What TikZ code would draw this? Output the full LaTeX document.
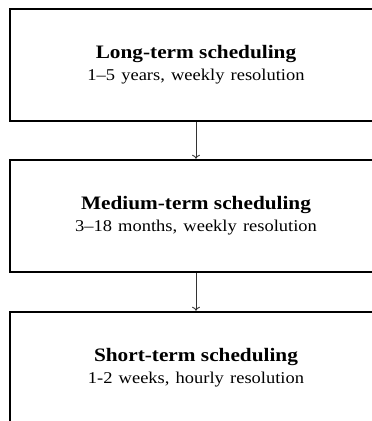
\documentclass[tikz,border=0pt]{standalone}
\usepackage{fontspec}
\setmainfont{Liberation Serif}[FakeStretch=1.12]
\usetikzlibrary{arrows.meta}
\newcommand{\stagetitle}[1]{{\fontsize{19}{22}\selectfont\bfseries #1}}
\newcommand{\stagenote}[1]{{\setlength{\spaceskip}{6.2pt}#1}}
\begin{document}
\begin{tikzpicture}[x=1pt,y=-1pt,
  stage/.style={draw=black, line width=2pt, minimum width=372pt,
    minimum height=112.5pt, inner sep=0pt, align=center,
    font=\fontsize{16.5}{22}\selectfont},
  flow/.style={draw=black!80, line width=0.9pt,
    -{To[length=4pt,width=8pt]}}]
  % visible window
  \useasboundingbox (0,0) rectangle (372,421);
  \clip (0,0) rectangle (372,421);

  \node[stage] (long) at (196,65)
    {\stagetitle{Long-term scheduling}\\\stagenote{1--5 years, weekly resolution}};
  \node[stage] (medium) at (196,216)
    {\stagetitle{Medium-term scheduling}\\\stagenote{3--18 months, weekly resolution}};
  \node[stage] (short) at (196,368)
    {\stagetitle{Short-term scheduling}\\\stagenote{1-2 weeks, hourly resolution}};

  \draw[flow] (long.south) -- (medium.north);
  \draw[flow] (medium.south) -- (short.north);
\end{tikzpicture}
\end{document}
